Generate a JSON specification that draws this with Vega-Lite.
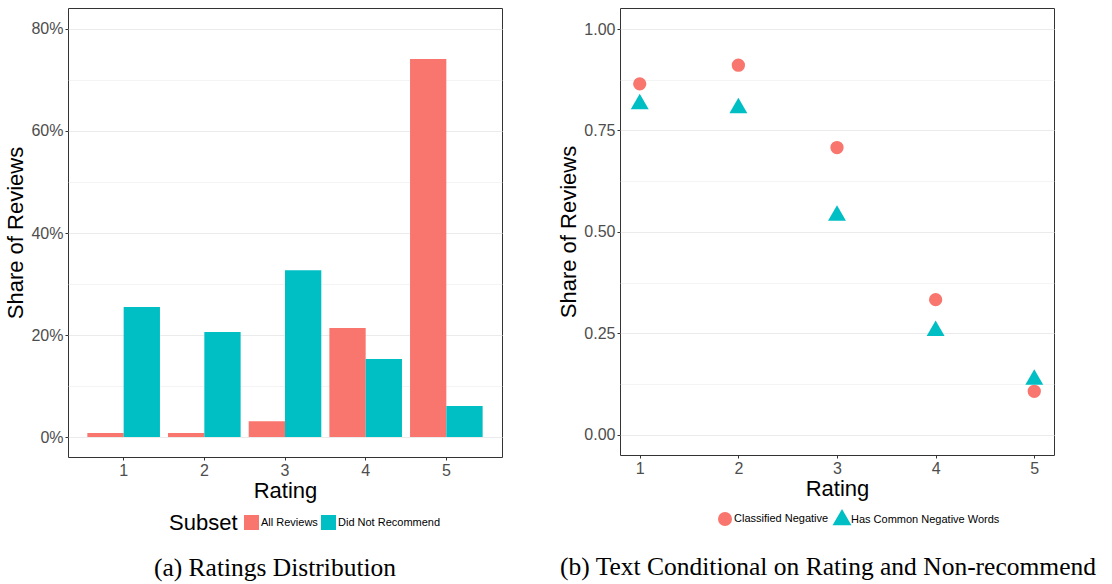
{
  "$schema": "https://vega.github.io/schema/vega-lite/v6.json",
  "padding": {"left": 4, "top": 7, "right": 0, "bottom": 0},
  "background": "white",
  "spacing": 54,
  "resolve": {
    "scale": {"color": "independent", "shape": "independent"},
    "legend": {"color": "independent", "shape": "independent"}
  },
  "config": {
    "font": "Liberation Sans",
    "view": {"stroke": "#333333", "strokeWidth": 1},
    "axis": {
      "labelFont": "Liberation Sans", "titleFont": "Liberation Sans",
      "labelFontSize": 16, "labelColor": "#4d4d4d",
      "titleFontSize": 22, "titleColor": "black", "titleFontWeight": "normal",
      "tickColor": "#333333", "tickSize": 3, "labelPadding": 2,
      "domain": false, "gridColor": "#ebebeb", "labelOverlap": false
    },
    "legend": {
      "labelFont": "Liberation Sans", "titleFont": "Liberation Sans",
      "labelFontSize": 11, "labelColor": "black"
    }
  },
  "datasets": {
    "bars": [
      {"Rating": "1", "Subset": "All Reviews", "Share": 0.008},
      {"Rating": "2", "Subset": "All Reviews", "Share": 0.008},
      {"Rating": "3", "Subset": "All Reviews", "Share": 0.031},
      {"Rating": "4", "Subset": "All Reviews", "Share": 0.214},
      {"Rating": "5", "Subset": "All Reviews", "Share": 0.741},
      {"Rating": "1", "Subset": "Did Not Recommend", "Share": 0.255},
      {"Rating": "2", "Subset": "Did Not Recommend", "Share": 0.206},
      {"Rating": "3", "Subset": "Did Not Recommend", "Share": 0.327},
      {"Rating": "4", "Subset": "Did Not Recommend", "Share": 0.153},
      {"Rating": "5", "Subset": "Did Not Recommend", "Share": 0.061}
    ],
    "points": [
      {"Rating": 1, "Measure": "Classified Negative", "Share": 0.865},
      {"Rating": 2, "Measure": "Classified Negative", "Share": 0.911},
      {"Rating": 3, "Measure": "Classified Negative", "Share": 0.708},
      {"Rating": 4, "Measure": "Classified Negative", "Share": 0.333},
      {"Rating": 5, "Measure": "Classified Negative", "Share": 0.107},
      {"Rating": 1, "Measure": "Has Common Negative Words", "Share": 0.815},
      {"Rating": 2, "Measure": "Has Common Negative Words", "Share": 0.805},
      {"Rating": 3, "Measure": "Has Common Negative Words", "Share": 0.540},
      {"Rating": 4, "Measure": "Has Common Negative Words", "Share": 0.256},
      {"Rating": 5, "Measure": "Has Common Negative Words", "Share": 0.136}
    ]
  },
  "hconcat": [
    {
      "width": 434,
      "height": 449,
      "data": {"name": "bars"},
      "title": {
        "text": "(a) Ratings Distribution", "orient": "bottom", "anchor": "middle", "frame": "group",
        "font": "Liberation Serif", "fontSize": 25.5, "fontWeight": "normal", "color": "black", "dx": -10, "offset": 22
      },
      "mark": {"type": "bar"},
      "encoding": {
        "x": {
          "field": "Rating", "type": "ordinal",
          "scale": {"paddingInner": 0.1, "paddingOuter": 0.24},
          "axis": {"title": "Rating", "labelAngle": 0, "grid": false, "titlePadding": 2}
        },
        "xOffset": {"field": "Subset", "type": "nominal", "scale": {"paddingInner": 0, "paddingOuter": 0}},
        "y": {
          "field": "Share", "type": "quantitative",
          "scale": {"domain": [-0.039, 0.841], "nice": false, "zero": false},
          "axis": {
            "title": "Share of Reviews", "titlePadding": 3,
            "values": [0, 0.1, 0.2, 0.3, 0.4, 0.5, 0.6, 0.7, 0.8],
            "format": ".0%",
            "labelExpr": "round(datum.value*10) % 2 == 0 ? datum.label : ''",
            "tickColor": {"condition": {"test": "round(datum.value*10) % 2 == 0", "value": "#333333"}, "value": "transparent"},
            "gridWidth": {"condition": {"test": "round(datum.value*10) % 2 == 0", "value": 1.1}, "value": 0.55}
          }
        },
        "color": {
          "field": "Subset", "type": "nominal",
          "scale": {"domain": ["All Reviews", "Did Not Recommend"], "range": ["#F8766D", "#00BFC4"]},
          "legend": {
            "orient": "none", "legendX": 101, "legendY": 507, "direction": "horizontal",
            "title": "Subset", "titleOrient": "left", "titleFontSize": 22, "titleFontWeight": "normal", "titleColor": "black",
            "titleAnchor": "middle", "titleBaseline": "middle",
            "symbolType": "square", "symbolSize": 225, "symbolStrokeWidth": 0, "symbolOpacity": 1,
            "labelOffset": 2, "columnPadding": 3, "titlePadding": 6
          }
        }
      }
    },
    {
      "width": 434,
      "height": 447,
      "data": {"name": "points"},
      "title": {
        "text": "(b) Text Conditional on Rating and Non-recommend", "orient": "bottom", "anchor": "middle", "frame": "group",
        "font": "Liberation Serif", "fontSize": 25.5, "fontWeight": "normal", "color": "black", "dx": -9, "offset": 29
      },
      "mark": {"type": "point", "filled": true, "opacity": 1, "size": 177},
      "encoding": {
        "x": {
          "field": "Rating", "type": "quantitative",
          "scale": {"domain": [0.8, 5.2], "nice": false, "zero": false},
          "axis": {"title": "Rating", "values": [1, 2, 3, 4, 5], "format": "d", "grid": false, "titlePadding": 2}
        },
        "y": {
          "field": "Share", "type": "quantitative",
          "scale": {"domain": [-0.05, 1.052], "nice": false, "zero": false},
          "axis": {
            "title": "Share of Reviews", "titlePadding": 3,
            "values": [0, 0.125, 0.25, 0.375, 0.5, 0.625, 0.75, 0.875, 1],
            "format": ".2f",
            "labelExpr": "round(datum.value*8) % 2 == 0 ? datum.label : ''",
            "tickColor": {"condition": {"test": "round(datum.value*8) % 2 == 0", "value": "#333333"}, "value": "transparent"},
            "gridWidth": {"condition": {"test": "round(datum.value*8) % 2 == 0", "value": 1.1}, "value": 0.55}
          }
        },
        "color": {
          "field": "Measure", "type": "nominal",
          "scale": {"domain": ["Classified Negative", "Has Common Negative Words"], "range": ["#F8766D", "#00BFC4"]},
          "legend": {
            "orient": "none", "legendX": 98, "legendY": 504, "direction": "horizontal", "title": null,
            "symbolSize": 196, "symbolStrokeWidth": 0, "symbolOpacity": 1,
            "labelOffset": 2, "columnPadding": 3
          }
        },
        "shape": {
          "field": "Measure", "type": "nominal",
          "scale": {"domain": ["Classified Negative", "Has Common Negative Words"], "range": ["circle", "M0,-1.555L1.347,0.778L-1.347,0.778Z"]},
          "legend": {
            "orient": "none", "legendX": 98, "legendY": 504, "direction": "horizontal", "title": null,
            "symbolSize": 196, "symbolStrokeWidth": 0, "symbolOpacity": 1,
            "labelOffset": 2, "columnPadding": 3
          }
        }
      }
    }
  ]
}
